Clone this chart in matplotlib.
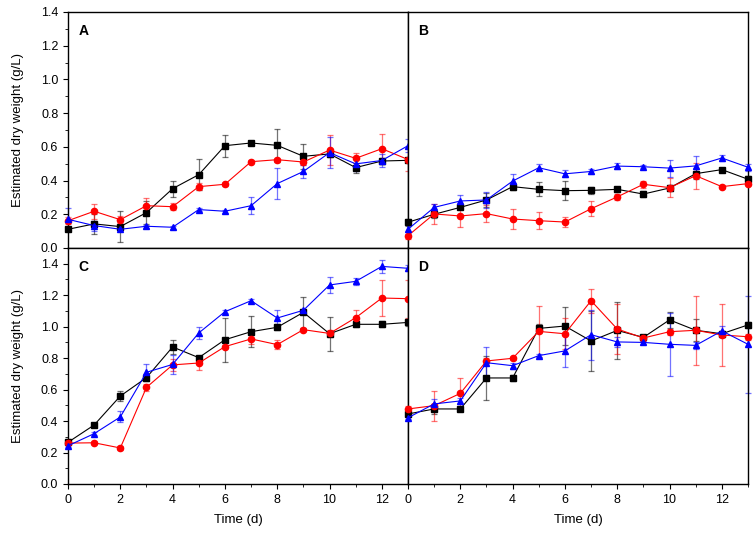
import matplotlib.pyplot as plt
from matplotlib.colors import to_rgba
from matplotlib.ticker import MultipleLocator

plt.rcParams['font.family'] = ['Liberation Sans', 'DejaVu Sans']

days = list(range(14))

# panel A
a_black = [0.111, 0.143, 0.127, 0.210, 0.352, 0.435, 0.607, 0.623, 0.609, 0.544, 0.558, 0.477, 0.516, 0.520]
a_black_err = [0.01, 0.06, 0.09, 0.07, 0.047, 0.093, 0.065, 0.01, 0.097, 0.075, 0.02, 0.03, 0.02, 0.01]
a_red = [0.162, 0.218, 0.168, 0.251, 0.245, 0.364, 0.378, 0.512, 0.524, 0.510, 0.581, 0.532, 0.589, 0.525]
a_red_err = [0.02, 0.045, 0.02, 0.048, 0.02, 0.02, 0.01, 0.01, 0.01, 0.02, 0.09, 0.03, 0.087, 0.07]
a_blue = [0.170, 0.133, 0.111, 0.129, 0.123, 0.228, 0.218, 0.251, 0.382, 0.454, 0.566, 0.499, 0.519, 0.607]
a_blue_err = [0.065, 0.03, 0.01, 0.01, 0.01, 0.01, 0.01, 0.05, 0.093, 0.04, 0.09, 0.04, 0.04, 0.04]

# panel B
b_black = [0.153, 0.200, 0.241, 0.285, 0.364, 0.348, 0.340, 0.342, 0.348, 0.320, 0.356, 0.441, 0.465, 0.408]
b_black_err = [0.02, 0.02, 0.01, 0.04, 0.02, 0.042, 0.055, 0.02, 0.015, 0.02, 0.02, 0.03, 0.01, 0.02]
b_red = [0.073, 0.202, 0.190, 0.204, 0.172, 0.162, 0.154, 0.233, 0.303, 0.378, 0.358, 0.429, 0.364, 0.382]
b_red_err = [0.02, 0.06, 0.064, 0.05, 0.062, 0.05, 0.03, 0.043, 0.02, 0.02, 0.057, 0.077, 0.01, 0.01]
b_blue = [0.111, 0.241, 0.279, 0.285, 0.397, 0.476, 0.440, 0.454, 0.486, 0.482, 0.474, 0.487, 0.534, 0.479]
b_blue_err = [0.03, 0.02, 0.035, 0.05, 0.04, 0.02, 0.02, 0.015, 0.02, 0.01, 0.05, 0.06, 0.02, 0.02]

# panel C
c_black = [0.265, 0.375, 0.559, 0.676, 0.871, 0.803, 0.917, 0.968, 0.996, 1.091, 0.955, 1.015, 1.015, 1.027]
c_black_err = [0.02, 0.01, 0.033, 0.02, 0.045, 0.01, 0.14, 0.10, 0.02, 0.10, 0.108, 0.02, 0.02, 0.02]
c_red = [0.260, 0.262, 0.229, 0.614, 0.757, 0.769, 0.873, 0.922, 0.886, 0.981, 0.957, 1.057, 1.182, 1.178]
c_red_err = [0.01, 0.01, 0.01, 0.02, 0.04, 0.045, 0.01, 0.03, 0.03, 0.01, 0.02, 0.05, 0.115, 0.12]
c_blue = [0.243, 0.320, 0.426, 0.710, 0.760, 0.960, 1.095, 1.165, 1.055, 1.104, 1.265, 1.288, 1.383, 1.371]
c_blue_err = [0.01, 0.01, 0.035, 0.05, 0.06, 0.04, 0.01, 0.01, 0.05, 0.01, 0.05, 0.02, 0.04, 0.02]

# panel D
d_black = [0.445, 0.477, 0.477, 0.674, 0.674, 0.989, 1.004, 0.909, 0.976, 0.932, 1.043, 0.977, 0.955, 1.011]
d_black_err = [0.02, 0.03, 0.01, 0.14, 0.02, 0.03, 0.12, 0.19, 0.18, 0.01, 0.05, 0.07, 0.02, 0.02]
d_red = [0.477, 0.498, 0.576, 0.782, 0.799, 0.970, 0.955, 1.165, 0.985, 0.928, 0.968, 0.977, 0.947, 0.936]
d_red_err = [0.02, 0.095, 0.10, 0.02, 0.01, 0.16, 0.10, 0.075, 0.16, 0.02, 0.02, 0.22, 0.20, 0.02]
d_blue = [0.421, 0.509, 0.528, 0.771, 0.752, 0.816, 0.846, 0.949, 0.903, 0.900, 0.888, 0.881, 0.973, 0.888]
d_blue_err = [0.01, 0.03, 0.02, 0.10, 0.02, 0.01, 0.10, 0.16, 0.03, 0.01, 0.20, 0.02, 0.03, 0.31]

panels = {
    'A': [(a_black, a_black_err), (a_red, a_red_err), (a_blue, a_blue_err)],
    'B': [(b_black, b_black_err), (b_red, b_red_err), (b_blue, b_blue_err)],
    'C': [(c_black, c_black_err), (c_red, c_red_err), (c_blue, c_blue_err)],
    'D': [(d_black, d_black_err), (d_red, d_red_err), (d_blue, d_blue_err)],
}
styles = [('black', 's'), ('red', 'o'), ('blue', '^')]

W, H = 753, 535
fig = plt.figure(figsize=(W / 100, H / 100), dpi=100)

left = 68 / W
width = 340 / W
ph = 236 / H
boxes = {
    'A': (left, 1 - 248 / H, width, ph),
    'B': (left + width, 1 - 248 / H, width, ph),
    'C': (left, 1 - 484 / H, width, ph),
    'D': (left + width, 1 - 484 / H, width, ph),
}

for name, series in panels.items():
    ax = fig.add_axes(boxes[name])
    for (vals, errs), (col, mk) in zip(series, styles):
        # error bars drawn lighter than the lines, as in the original
        ax.errorbar(days, vals, yerr=errs, fmt='none', ecolor=to_rgba(col, 0.55),
                    elinewidth=0.9, capsize=2.2, capthick=0.9, clip_on=False, zorder=2)
        ax.plot(days, vals, color=col, marker=mk, markersize=4.5, linewidth=0.8,
                clip_on=False, zorder=3)
    ax.set_xlim(0, 13)
    if name in 'AB':
        ax.set_ylim(0, 1.4)
    else:
        ax.set_ylim(0, 1.5)
    ax.yaxis.set_minor_locator(MultipleLocator(0.1))
    ax.xaxis.set_minor_locator(MultipleLocator(1))
    ax.set_yticks([0, 0.2, 0.4, 0.6, 0.8, 1.0, 1.2, 1.4])
    ax.tick_params(which='both', direction='out', labelsize=9)
    ax.tick_params(which='major', length=3.5)
    ax.tick_params(which='minor', length=2)
    for sp in ax.spines.values():
        sp.set_linewidth(1.0)
    if name in 'AB':
        ax.tick_params(axis='x', which='both', bottom=False, labelbottom=False)
    else:
        ax.set_xticks(range(0, 13, 2))
        ax.set_xlabel('Time (d)', fontsize=9.5, labelpad=6)
    if name in 'BD':
        ax.tick_params(axis='y', which='both', left=False, labelleft=False)
    else:
        ax.set_yticklabels(['0.0', '0.2', '0.4', '0.6', '0.8', '1.0', '1.2', '1.4'])
        ax.set_ylabel('Estimated dry weight (g/L)', fontsize=9.5, labelpad=12)
    ax.text(0.03, 0.92, name, transform=ax.transAxes, fontsize=10,
            fontweight='bold', va='center', ha='left')

fig.savefig('out.png', dpi=100)
